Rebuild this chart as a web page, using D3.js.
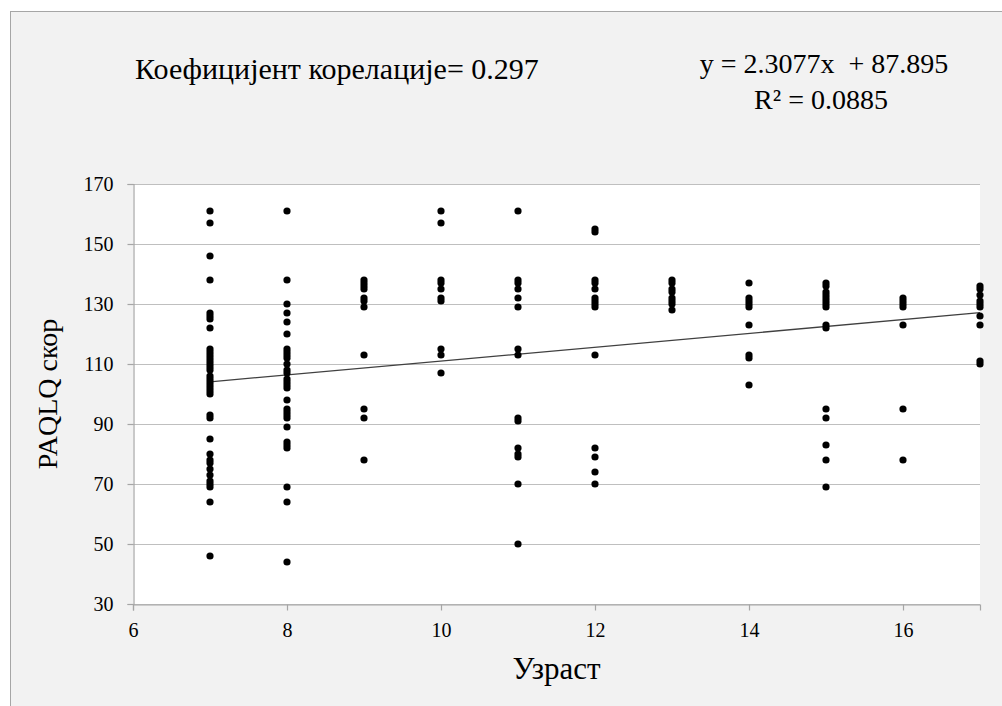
<!DOCTYPE html>
<html>
<head>
<meta charset="utf-8">
<script src="https://cdn.jsdelivr.net/npm/d3@7"></script>
<style>
  html, body { margin: 0; padding: 0; background: #ffffff; }
  svg { display: block; }
  text { font-family: "Liberation Serif", "Times New Roman", serif; fill: #000; }
</style>
</head>
<body>
<svg id="chart" width="1002" height="706"></svg>
<script>
// PAQLQ score by age (years)
const age7  = [161, 157, 146, 138, 127, 126, 125, 122, 115, 114, 113, 112, 111, 110, 109, 108, 106, 105, 104, 103, 102, 101, 100, 93, 92, 85, 80, 78, 77, 75, 73, 71, 70, 69, 64, 46];
const age8  = [161, 138, 130, 127, 124, 120, 115, 114, 113, 112, 110, 108, 107, 105, 104, 103, 102, 98, 95, 94, 93, 92, 89, 84, 83, 82, 69, 64, 44];
const age9  = [138, 137, 136, 135, 132, 131, 129, 113, 95, 92, 78];
const age10 = [161, 157, 138, 137, 135, 132, 131, 115, 113, 107];
const age11 = [161, 138, 137, 135, 132, 129, 115, 113, 92, 91, 82, 80, 79, 70, 50];
const age12 = [155, 154, 138, 137, 135, 132, 131, 130, 129, 113, 82, 79, 74, 70];
const age13 = [138, 137, 135, 134, 132, 131, 130, 128];
const age14 = [137, 132, 131, 130, 129, 123, 113, 112, 103];
const age15 = [137, 136, 134, 133, 132, 131, 130, 129, 123, 122, 95, 92, 83, 78, 69];
const age16 = [132, 131, 130, 129, 123, 95, 78];
const age17 = [136, 135, 133, 131, 130, 129, 126, 123, 111, 110];

const ages = [7, 8, 9, 10, 11, 12, 13, 14, 15, 16, 17];
const scoresByAge = [age7, age8, age9, age10, age11, age12, age13, age14, age15, age16, age17];

// Axis ticks
const xTicks = [6, 8, 10, 12, 14, 16];
const yTicks = [30, 50, 70, 90, 110, 130, 150, 170];

// Linear trend: y = 2.3077x + 87.895, R² = 0.0885
const slope = 2.3077;
const intercept = 87.895;
const rSquared = "0.0885";
const correlation = "0.297";

const points = [];
ages.forEach((a, i) => scoresByAge[i].forEach(s => points.push({ age: a, score: s })));

const serif = "'Liberation Serif', 'Times New Roman', serif";
const svg = d3.select("#chart");

// Chart frame
svg.append("rect")
  .attr("x", 10.5).attr("y", 11.5)
  .attr("width", 1010).attr("height", 720)
  .attr("fill", "#f2f2f2")
  .attr("stroke", "#a6a6a6").attr("stroke-width", 1);

const plot = { left: 133, right: 980, top: 184, bottom: 604 };

const x = d3.scaleLinear().domain([6, 17]).range([plot.left, plot.right]);
const y = d3.scaleLinear().domain([30, 170]).range([plot.bottom, plot.top]);

// Plot area
svg.append("rect")
  .attr("x", plot.left).attr("y", plot.top)
  .attr("width", plot.right - plot.left).attr("height", plot.bottom - plot.top)
  .attr("fill", "#ffffff");

// Horizontal gridlines
svg.append("g")
  .selectAll("line")
  .data(yTicks)
  .join("line")
  .attr("x1", plot.left).attr("x2", plot.right)
  .attr("y1", d => Math.round(y(d)) + 0.5).attr("y2", d => Math.round(y(d)) + 0.5)
  .attr("stroke", "#bfbfbf").attr("stroke-width", 1.2);

// Y axis
const yAxis = svg.append("g")
  .attr("transform", `translate(${plot.left + 0.5},0)`)
  .call(d3.axisLeft(y).tickValues(yTicks).tickSize(6).tickPadding(14).tickFormat(d3.format("d")))
  .attr("font-family", serif).attr("font-size", 20);
yAxis.select(".domain").attr("stroke", "#a6a6a6").attr("stroke-width", 1.2);
yAxis.selectAll(".tick line").attr("stroke", "#a6a6a6").attr("stroke-width", 1.2);
yAxis.selectAll(".tick text").style("font-family", serif).style("font-size", "20px").attr("fill", "#262626");

// X axis
const xAxis = svg.append("g")
  .attr("transform", `translate(0,${plot.bottom + 0.5})`)
  .call(d3.axisBottom(x).tickValues(xTicks).tickSize(6).tickPadding(12).tickFormat(d3.format("d")))
  .attr("font-family", serif).attr("font-size", 20);
xAxis.select(".domain").attr("stroke", "#a6a6a6").attr("stroke-width", 1.2);
xAxis.selectAll(".tick line").attr("stroke", "#a6a6a6").attr("stroke-width", 1.2);
xAxis.selectAll(".tick text").style("font-family", serif).style("font-size", "20px").attr("fill", "#262626");

// Trend line across the observed age range
const xMin = d3.min(ages), xMax = d3.max(ages);
svg.append("line")
  .attr("x1", x(xMin)).attr("y1", y(slope * xMin + intercept))
  .attr("x2", x(xMax)).attr("y2", y(slope * xMax + intercept))
  .attr("stroke", "#404040").attr("stroke-width", 1.3);

// Observations
svg.append("g")
  .selectAll("circle")
  .data(points)
  .join("circle")
  .attr("cx", d => x(d.age))
  .attr("cy", d => y(d.score))
  .attr("r", 3.6)
  .attr("fill", "#000");

// Annotations
svg.append("text")
  .attr("x", 135).attr("y", 79)
  .style("font-family", serif)
  .style("font-size", "30px")
  .text(`Коефицијент корелације= ${correlation}`);

svg.append("text")
  .attr("x", 824).attr("y", 73)
  .attr("text-anchor", "middle")
  .style("font-family", serif)
  .style("font-size", "28px")
  .style("white-space", "pre")
  .text(`y = ${slope}x  + ${intercept}`);

svg.append("text")
  .attr("x", 821).attr("y", 109)
  .attr("text-anchor", "middle")
  .style("font-family", serif)
  .style("font-size", "28px")
  .text(`R² = ${rSquared}`);

// Axis titles
svg.append("text")
  .attr("x", (plot.left + plot.right) / 2).attr("y", 679)
  .attr("text-anchor", "middle")
  .style("font-family", serif)
  .style("font-size", "31px")
  .text("Узраст");

svg.append("text")
  .attr("transform", `translate(57,${(plot.top + plot.bottom) / 2}) rotate(-90)`)
  .attr("text-anchor", "middle")
  .style("font-family", serif)
  .style("font-size", "28px")
  .text("PAQLQ скор");
</script>
</body>
</html>
